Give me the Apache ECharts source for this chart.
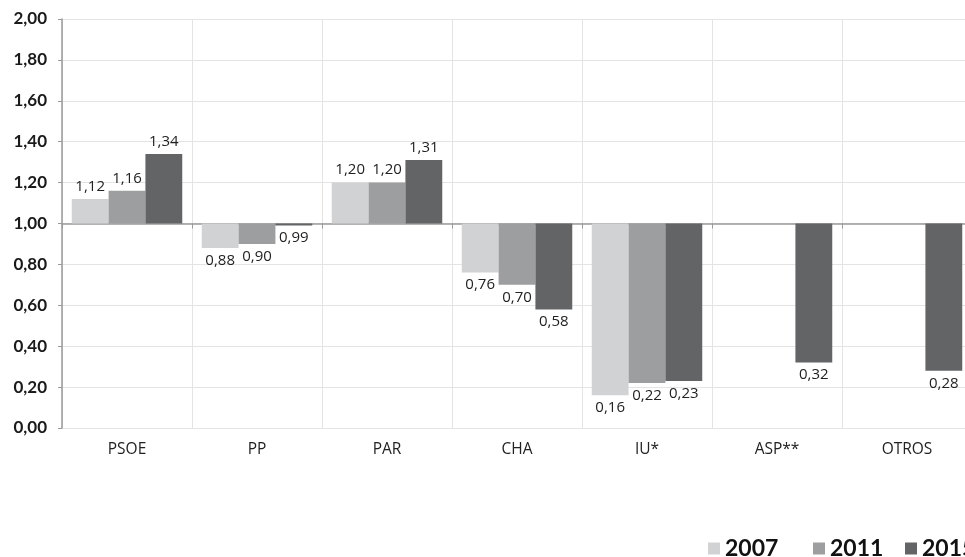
<!DOCTYPE html>
<html>
<head>
<meta charset="utf-8">
<script src="https://cdn.jsdelivr.net/npm/echarts@6/dist/echarts.min.js"></script>
<style>html,body{margin:0;padding:0;background:#fff}#c{width:965px;height:557px}</style>
</head>
<body>
<div id="c"></div>
<script>
const categories = ['PSOE', 'PP', 'PAR', 'CHA', 'IU*', 'ASP**', 'OTROS'];
const years = ['2007', '2011', '2015'];
const v2007 = [1.12, 0.88, 1.20, 0.76, 0.16, null, null];
const v2011 = [1.16, 0.90, 1.20, 0.70, 0.22, null, null];
const v2015 = [1.34, 0.99, 1.31, 0.58, 0.23, 0.32, 0.28];
const yTicks = [0, 0.2, 0.4, 0.6, 0.8, 1.0, 1.2, 1.4, 1.6, 1.8, 2.0];
const baseline = 1.0;

const fmt = v => v.toFixed(2).replace('.', ',');

function mkSeries(name, vals, color) {
  return {
    name: name,
    type: 'bar',
    xAxisIndex: 0,
    barGap: '0%',
    barCategoryGap: '15%',
    itemStyle: { color: color },
    data: vals.map(v => v == null ? null : {
      value: +(v - baseline).toFixed(4),
      label: {
        show: true,
        position: v >= baseline ? 'top' : 'bottom',
        distance: 5,
        formatter: () => fmt(v),
        fontFamily: 'Open Sans',
        fontSize: 15,
        color: '#222'
      }
    })
  };
}

const chart = echarts.init(document.getElementById('c'));
chart.setOption({
  animation: false,
  backgroundColor: '#fff',
  grid: { left: 62, top: 19, right: -7, bottom: 129, outerBoundsMode: 'none', containLabel: false },
  legend: years.map((y, i) => ({
    data: [y],
    left: [703, 808, 900][i],
    top: 532,
    itemWidth: 12,
    itemHeight: 12,
    itemGap: 8,
    icon: 'rect',
    textStyle: { fontFamily: 'Lato', fontSize: 23, color: '#111', fontWeight: 'bold' }
  })),
  xAxis: [
    {
      type: 'category',
      data: categories,
      axisLine: { onZero: true, lineStyle: { color: '#9a9a9a', width: 1.5 } },
      axisTick: { show: true, length: 5, inside: false, lineStyle: { color: '#9a9a9a' } },
      axisLabel: { show: false },
      splitLine: { show: false }
    },
    {
      type: 'category',
      data: categories,
      position: 'bottom',
      axisLine: { show: false, onZero: false },
      axisTick: { show: false },
      axisLabel: { show: true, margin: 14, fontFamily: 'Open Sans', fontSize: 15.5, color: '#222' },
      splitLine: { show: true, lineStyle: { color: '#e4e4e4' } }
    }
  ],
  yAxis: {
    type: 'value',
    min: yTicks[0] - baseline,
    max: yTicks[yTicks.length - 1] - baseline,
    interval: 0.2,
    axisLine: { show: true, lineStyle: { color: '#9a9a9a', width: 1.5 } },
    axisTick: { show: true, length: 4, lineStyle: { color: '#9a9a9a' } },
    axisLabel: {
      margin: 15,
      fontFamily: 'Lato',
      fontSize: 17,
      fontWeight: 'bold',
      color: '#1a1a1a',
      formatter: v => fmt(Math.round((v + baseline) * 100) / 100)
    },
    splitLine: { show: true, lineStyle: { color: '#e4e4e4' } }
  },
  series: [
    mkSeries(years[0], v2007, '#d1d2d4'),
    mkSeries(years[1], v2011, '#9d9ea0'),
    mkSeries(years[2], v2015, '#636466')
  ]
});
</script>
</body>
</html>
